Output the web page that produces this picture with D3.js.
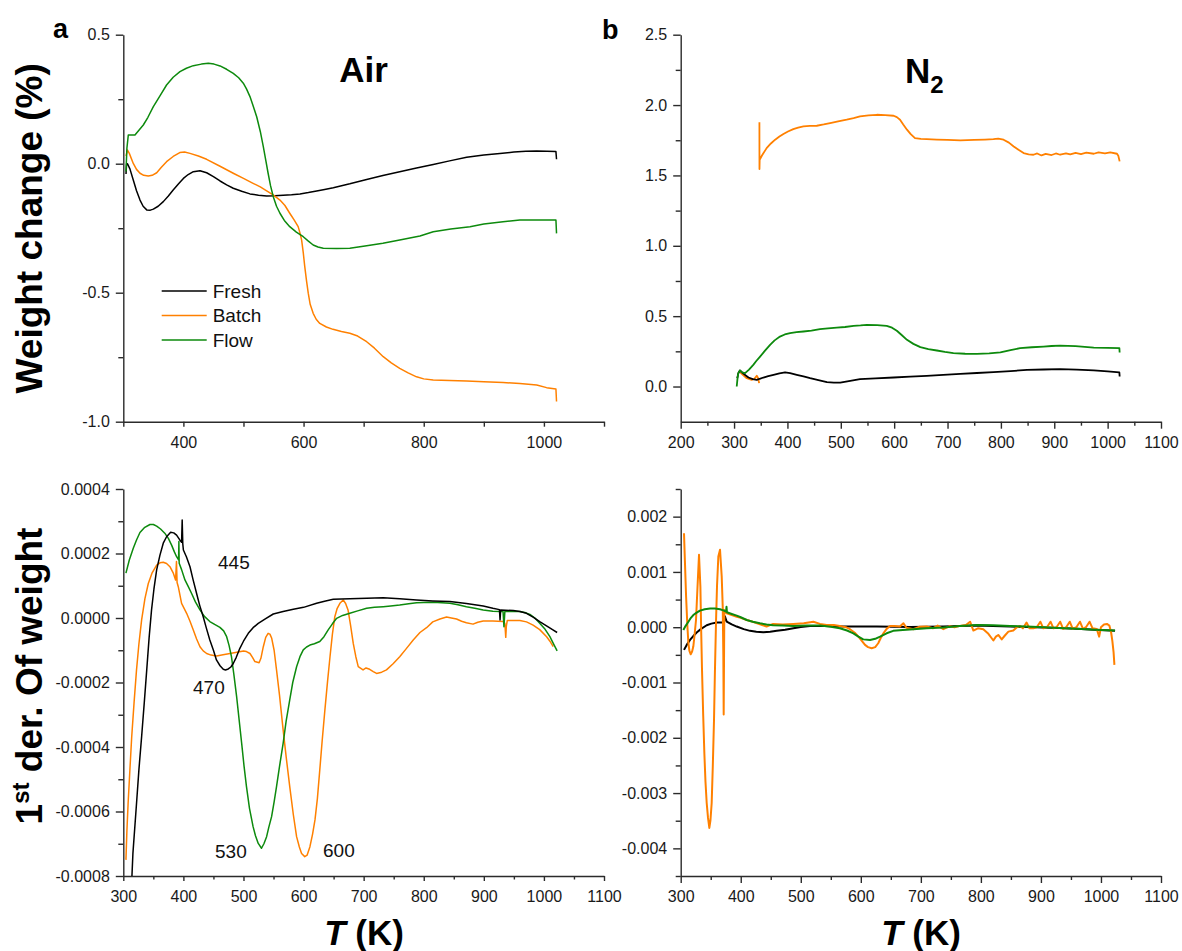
<!DOCTYPE html>
<html>
<head>
<meta charset="utf-8">
<script src="https://cdn.jsdelivr.net/npm/d3@7"></script>
<style>
body { margin:0; background:#fff; }
svg { display:block; font-family:"Liberation Sans", Arial, sans-serif; }
.axis path, .axis line { stroke:#2b2b2b; stroke-width:1.4; }
.axis text { font-size:16px; fill:#1a1a1a; font-family:"Liberation Sans", Arial, sans-serif; }
</style>
</head>
<body>
<svg id="fig" width="1182" height="951"></svg>
<script>
//Data : [T (K), value]
const seriesNames = ['Fresh','Batch','Flow'];
const seriesColors = ['#000000','#ff8000','#0d8a0d'];

// a : weight change (%) in air
const airFresh = [[304.5,-0.04],[305.5,0.0],[307,0.0],[311,-0.02],[316.6,-0.063],[322,-0.105],[327.8,-0.141],[333,-0.165],[339,-0.179],[345,-0.18],[350,-0.176],[358,-0.165],[366.6,-0.147],[375,-0.125],[383,-0.102],[392,-0.078],[400,-0.057],[408,-0.042],[416.5,-0.031],[427.6,-0.027],[438.7,-0.035],[450,-0.05],[461,-0.067],[472,-0.082],[483,-0.095],[497,-0.107],[510.8,-0.117],[525,-0.122],[538.6,-0.125],[552,-0.124],[566,-0.122],[580,-0.12],[594,-0.117],[608,-0.112],[621.8,-0.106],[635,-0.1],[649.5,-0.093],[677,-0.078],[705,-0.061],[732,-0.046],[760,-0.031],[788,-0.017],[815.8,-0.003],[843,0.011],[871.4,0.025],[900,0.034],[926.8,0.04],[950,0.045],[970,0.048],[988,0.049],[1005,0.048],[1020,0.047],[1021,0.017]];
const airBatch = [[304.5,0.03],[307,0.053],[310,0.04],[316.6,0.001],[322,-0.022],[327.8,-0.037],[334,-0.045],[341.6,-0.048],[348,-0.045],[355.6,-0.035],[363,-0.015],[372,0.008],[383,0.028],[394,0.043],[402,0.045],[411,0.04],[425,0.03],[438.7,0.017],[461,-0.01],[483,-0.037],[500,-0.057],[516,-0.076],[528,-0.09],[538.6,-0.105],[550,-0.122],[560.7,-0.141],[569,-0.162],[577,-0.192],[584,-0.217],[591,-0.244],[594,-0.268],[596.8,-0.296],[599.5,-0.345],[602,-0.399],[605,-0.455],[607.8,-0.502],[611,-0.545],[616,-0.58],[621,-0.603],[627,-0.619],[638,-0.633],[649,-0.642],[663,-0.65],[677,-0.657],[690,-0.668],[705,-0.69],[718,-0.715],[732.6,-0.748],[746,-0.772],[760,-0.793],[774,-0.811],[788,-0.826],[800,-0.834],[815.8,-0.838],[843,-0.84],[871.4,-0.842],[900,-0.845],[932,-0.848],[960,-0.852],[988,-0.858],[1004.5,-0.868],[1020,-0.873],[1021,-0.922]];
const airFlow = [[304.5,-0.03],[306,0.06],[308.3,0.111],[319.4,0.111],[326,0.13],[333.3,0.15],[341,0.18],[350,0.221],[361,0.263],[372,0.305],[383,0.335],[394.3,0.357],[405,0.37],[416.5,0.38],[430,0.386],[441.5,0.389],[451,0.386],[461,0.379],[472,0.366],[483,0.35],[492,0.333],[499.7,0.312],[505,0.29],[510.8,0.26],[516,0.225],[522,0.182],[528,0.125],[533,0.066],[537,0.015],[541,-0.037],[545,-0.085],[549.6,-0.128],[555,-0.165],[560.7,-0.192],[568,-0.22],[577,-0.244],[588,-0.265],[599.5,-0.283],[608,-0.3],[616,-0.315],[624,-0.323],[632.8,-0.328],[655,-0.329],[677,-0.328],[705,-0.318],[732,-0.308],[760,-0.296],[793.7,-0.28],[815.8,-0.264],[845,-0.253],[877,-0.244],[900,-0.234],[932,-0.225],[960,-0.218],[990,-0.218],[1020,-0.218],[1021,-0.27]];

// b : weight change (%) in N2
const n2Fresh = [[306,0.06],[308,0.095],[311,0.114],[318,0.09],[327,0.064],[335,0.052],[342.5,0.047],[348,0.055],[355,0.064],[364,0.074],[374,0.083],[385,0.093],[395.6,0.1],[405,0.095],[417.5,0.083],[430,0.072],[442.5,0.059],[458,0.045],[474,0.031],[487,0.027],[499,0.028],[515,0.038],[536,0.052],[565,0.058],[599,0.064],[630,0.07],[661,0.076],[692,0.083],[724,0.09],[755,0.096],[786,0.102],[818,0.11],[849,0.118],[880,0.121],[911,0.123],[942,0.12],[974,0.114],[1000,0.107],[1022,0.1],[1022.5,0.071]];
const n2BatchStart = [[310,0.107],[316,0.085],[323.75,0.059],[333,0.047],[338,0.055],[342.5,0.076],[345,0.06],[347,0.024]];
const n2Batch = [[347.5,1.877],[347.6,1.545],[348,1.611],[352,1.64],[361,1.694],[369,1.727],[377,1.754],[385,1.776],[392.5,1.794],[401,1.812],[411,1.829],[420,1.84],[430,1.848],[442,1.852],[455,1.853],[468,1.862],[480,1.872],[495,1.884],[511,1.896],[524,1.907],[536,1.919],[552,1.926],[567.5,1.931],[583,1.929],[599,1.924],[605,1.914],[611,1.896],[617,1.862],[624,1.825],[631,1.793],[639,1.765],[650,1.76],[661,1.758],[680,1.755],[700,1.752],[724,1.749],[750,1.752],[770,1.755],[786,1.758],[795,1.762],[805,1.754],[815,1.733],[824,1.706],[833,1.682],[842.5,1.659],[852,1.65],[861,1.647],[868,1.656],[876,1.642],[884,1.653],[895,1.645],[903,1.656],[911,1.647],[922,1.657],[930,1.649],[940,1.66],[950,1.652],[960,1.662],[974,1.654],[983,1.664],[995,1.656],[1005,1.664],[1017.5,1.654],[1020,1.64],[1022.5,1.6]];
const n2Flow = [[305,0.0],[306.5,0.06],[308,0.095],[311,0.114],[315,0.1],[320.6,0.095],[328,0.12],[336,0.154],[342,0.183],[348.75,0.213],[358,0.255],[367.5,0.296],[376,0.328],[386,0.355],[395,0.37],[405,0.379],[417,0.386],[430,0.391],[445,0.397],[461,0.408],[476,0.413],[492.5,0.419],[508,0.423],[524,0.431],[537,0.434],[549,0.438],[568,0.436],[586,0.431],[596,0.418],[605,0.396],[614,0.366],[624,0.332],[636,0.303],[649,0.28],[664,0.266],[680,0.256],[695,0.246],[711,0.237],[733,0.233],[755,0.232],[778,0.236],[799,0.242],[818,0.258],[836,0.273],[858,0.279],[880,0.284],[895,0.288],[911,0.291],[940,0.287],[974,0.277],[1000,0.275],[1022,0.273],[1022.5,0.242]];

// c : 1st derivative in air
const derAirFresh = [[313,-8.6e-4],[316,-7.3e-4],[322,-5.75e-4],[326,-4.7e-4],[330.5,-3.68e-4],[335,-2.6e-4],[339,-1.61e-4],[343,-0.6e-4],[347,0.25e-4],[351,0.9e-4],[355.5,1.49e-4],[361,1.95e-4],[366.5,2.32e-4],[372,2.52e-4],[378.8,2.66e-4],[384,2.64e-4],[388.7,2.57e-4],[394,2.42e-4],[397,2.35e-4],[398,3.04e-4],[399,2.3e-4],[400,2.11e-4],[405,1.9e-4],[411,1.59e-4],[416,1.2e-4],[422,0.76e-4],[427,0.4e-4],[433,0.04e-4],[438,-0.3e-4],[444,-0.68e-4],[450,-1.0e-4],[455,-1.3e-4],[461,-1.48e-4],[466.4,-1.59e-4],[470,-1.61e-4],[474.7,-1.58e-4],[479,-1.52e-4],[483,-1.41e-4],[488,-1.22e-4],[494,-0.94e-4],[500,-0.72e-4],[508,-0.475e-4],[516,-0.3e-4],[524.6,-0.165e-4],[537,-0.02e-4],[549.6,0.124e-4],[566,0.2e-4],[583,0.27e-4],[600,0.33e-4],[621.7,0.455e-4],[635,0.52e-4],[649.4,0.58e-4],[677,0.6e-4],[705,0.61e-4],[732.6,0.63e-4],[760,0.6e-4],[788,0.56e-4],[815,0.53e-4],[843.5,0.51e-4],[871,0.45e-4],[899,0.37e-4],[915,0.3e-4],[926,0.26e-4],[927,-0.06e-4],[928,0.25e-4],[949,0.23e-4],[960,0.2e-4],[971,0.145e-4],[982,0.03e-4],[993,-0.11e-4],[1005,-0.25e-4],[1015,-0.37e-4],[1022,-0.45e-4]];
const derAirBatch = [[304.4,-7.5e-4],[306,-6.6e-4],[308,-5.75e-4],[311,-4.7e-4],[314,-3.68e-4],[318,-2.6e-4],[322,-1.61e-4],[326,-0.8e-4],[330.5,-0.06e-4],[336,0.6e-4],[341.6,1.07e-4],[348,1.4e-4],[355.5,1.64e-4],[361,1.71e-4],[366.5,1.73e-4],[372,1.69e-4],[377.6,1.59e-4],[383,1.4e-4],[387,1.18e-4],[388.5,1.75e-4],[389.5,1.1e-4],[391.5,0.97e-4],[397,0.455e-4],[405.4,0.145e-4],[411,-0.1e-4],[416.5,-0.37e-4],[422,-0.65e-4],[427.6,-0.89e-4],[433,-1.02e-4],[438.7,-1.1e-4],[446,-1.15e-4],[455.3,-1.18e-4],[466,-1.14e-4],[477.5,-1.1e-4],[489,-1.06e-4],[500,-1.02e-4],[505,-1.04e-4],[510.8,-1.1e-4],[515,-1.22e-4],[519,-1.35e-4],[526,-1.39e-4],[529,-1.25e-4],[533,-0.89e-4],[537,-0.6e-4],[541,-0.475e-4],[544,-0.5e-4],[547,-0.63e-4],[551,-1.0e-4],[555,-1.61e-4],[560,-2.4e-4],[566,-3.47e-4],[571,-4.3e-4],[577,-5.23e-4],[583,-6.1e-4],[588.4,-6.78e-4],[593,-7.1e-4],[596.7,-7.3e-4],[602,-7.4e-4],[606,-7.35e-4],[610.6,-7.09e-4],[615,-6.7e-4],[619,-6.26e-4],[623,-5.6e-4],[627,-4.71e-4],[631,-3.8e-4],[635.5,-2.85e-4],[640,-1.95e-4],[644,-1.2e-4],[648,-0.5e-4],[652,0.04e-4],[656,0.3e-4],[660.5,0.455e-4],[666,0.56e-4],[670,0.45e-4],[674,0.25e-4],[678,-0.2e-4],[682.7,-0.79e-4],[687,-1.2e-4],[691,-1.51e-4],[699,-1.61e-4],[704,-1.55e-4],[710,-1.59e-4],[716,-1.66e-4],[721.5,-1.72e-4],[730,-1.68e-4],[738,-1.61e-4],[749,-1.42e-4],[760,-1.2e-4],[771,-0.95e-4],[782.5,-0.68e-4],[793.7,-0.45e-4],[804.7,-0.3e-4],[815,-0.12e-4],[827,-0.03e-4],[838,0.03e-4],[846,0.0],[854.6,-0.03e-4],[863,-0.1e-4],[871,-0.145e-4],[882,-0.19e-4],[890,-0.13e-4],[899,-0.09e-4],[915,-0.09e-4],[932,-0.11e-4],[935,-0.165e-4],[936.5,-0.6e-4],[937.5,-0.25e-4],[939,-0.08e-4],[960,-0.08e-4],[971,-0.12e-4],[982,-0.22e-4],[993,-0.36e-4],[1004.5,-0.58e-4],[1010,-0.72e-4],[1015.5,-0.89e-4]];
const derAirFlow = [[304.4,1.39e-4],[310,1.8e-4],[316.6,2.16e-4],[322,2.42e-4],[327.7,2.65e-4],[335,2.8e-4],[344.4,2.9e-4],[350,2.9e-4],[355.5,2.85e-4],[362,2.76e-4],[369,2.63e-4],[375,2.47e-4],[380.4,2.26e-4],[385,2.05e-4],[388.7,1.9e-4],[392,1.8e-4],[392.5,2.37e-4],[393,1.7e-4],[397,1.5e-4],[402.6,1.18e-4],[408,0.98e-4],[413.7,0.76e-4],[420,0.5e-4],[427.6,0.25e-4],[435,0.05e-4],[444,-0.11e-4],[452,-0.2e-4],[460.8,-0.29e-4],[467,-0.4e-4],[472,-0.58e-4],[476,-0.85e-4],[480,-1.2e-4],[484,-1.75e-4],[488.6,-2.44e-4],[493,-3.2e-4],[497,-3.89e-4],[501,-4.6e-4],[505,-5.23e-4],[510,-5.9e-4],[516,-6.47e-4],[520,-6.75e-4],[524.6,-6.99e-4],[530,-7.14e-4],[534,-7.0e-4],[538.5,-6.78e-4],[542,-6.5e-4],[546.8,-6.16e-4],[551,-5.7e-4],[555,-5.23e-4],[560,-4.6e-4],[566,-3.89e-4],[571,-3.2e-4],[577,-2.54e-4],[582,-2.0e-4],[588.4,-1.51e-4],[594,-1.2e-4],[599.5,-0.99e-4],[605,-0.9e-4],[610.6,-0.84e-4],[618,-0.8e-4],[627,-0.73e-4],[634,-0.58e-4],[641,-0.37e-4],[648,-0.18e-4],[655,-0.01e-4],[665,0.08e-4],[677,0.145e-4],[690,0.22e-4],[705,0.3e-4],[718,0.33e-4],[732.6,0.35e-4],[745,0.37e-4],[760,0.4e-4],[775,0.44e-4],[788,0.475e-4],[800,0.48e-4],[816,0.49e-4],[830,0.47e-4],[843.5,0.455e-4],[857,0.41e-4],[871,0.35e-4],[885,0.3e-4],[899,0.25e-4],[915,0.21e-4],[927,0.2e-4],[932,0.2e-4],[933.5,-0.27e-4],[935,0.2e-4],[960,0.2e-4],[970,0.16e-4],[976.7,0.11e-4],[985,0.0],[993,-0.165e-4],[1002,-0.35e-4],[1010,-0.58e-4],[1016,-0.8e-4],[1022,-1.02e-4]];

// d : 1st derivative in N2
const derN2Fresh = [[305.5,-0.41e-3],[310,-0.32e-3],[315.5,-0.23e-3],[321,-0.16e-3],[326.6,-0.096e-3],[334,-0.03e-3],[343.3,0.036e-3],[351,0.065e-3],[360,0.084e-3],[372,0.084e-3],[373.5,0.2e-3],[375,0.15e-3],[376.6,0.1e-3],[385,0.05e-3],[393.3,0.012e-3],[405,-0.035e-3],[415.5,-0.066e-3],[426,-0.082e-3],[437.7,-0.09e-3],[449,-0.082e-3],[460,-0.066e-3],[474,-0.045e-3],[487.7,-0.018e-3],[500,0.005e-3],[515.4,0.024e-3],[540,0.02e-3],[571,0.012e-3],[600,0.012e-3],[626.5,0.012e-3],[655,0.01e-3],[682,0.006e-3],[710,0.01e-3],[737.5,0.012e-3],[765,0.02e-3],[793,0.03e-3],[820,0.02e-3],[848.6,0.012e-3],[876,0.003e-3],[904,-0.006e-3],[930,-0.015e-3],[959.6,-0.03e-3],[990,-0.045e-3],[1023.5,-0.066e-3]];
const derN2Batch = [[305.5,1.7e-3],[307,1.2e-3],[309,0.55e-3],[311,0.05e-3],[312.8,-0.29e-3],[314.5,-0.43e-3],[316.7,-0.49e-3],[319,-0.44e-3],[321,-0.35e-3],[323,-0.15e-3],[325.5,0.13e-3],[328,0.73e-3],[330.5,1.31e-3],[332.8,0.73e-3],[334,0.0],[335.5,-0.77e-3],[337.5,-1.6e-3],[339.4,-2.28e-3],[341.3,-2.8e-3],[343.3,-3.18e-3],[345.5,-3.45e-3],[347.7,-3.63e-3],[349.5,-3.5e-3],[351.6,-3.18e-3],[353.5,-2.5e-3],[355.5,-1.67e-3],[357,-0.8e-3],[358.9,0.13e-3],[360.5,0.75e-3],[362.7,1.28e-3],[365.5,1.4e-3],[368.3,0.92e-3],[370,0.37e-3],[371,-0.5e-3],[371.6,-1.58e-3],[372.2,-0.5e-3],[372.7,0.31e-3],[376.6,0.25e-3],[385,0.22e-3],[393.3,0.19e-3],[400,0.17e-3],[410,0.13e-3],[420,0.1e-3],[432,0.054e-3],[443,0.012e-3],[454,0.06e-3],[470,0.05e-3],[487.7,0.06e-3],[505,0.07e-3],[521,0.1e-3],[532,0.06e-3],[543,0.04e-3],[555,0.04e-3],[565,0.024e-3],[575,0.0],[582,-0.036e-3],[590,-0.1e-3],[596,-0.17e-3],[602,-0.25e-3],[607,-0.32e-3],[612,-0.36e-3],[618,-0.38e-3],[624,-0.36e-3],[629,-0.29e-3],[633,-0.2e-3],[637.6,-0.11e-3],[643,-0.03e-3],[648.7,0.024e-3],[656,0.02e-3],[665,0.012e-3],[671,0.072e-3],[676,-0.01e-3],[687.6,-0.036e-3],[698,0.01e-3],[709.8,0.012e-3],[720,-0.02e-3],[728,0.03e-3],[737.5,-0.036e-3],[748,0.02e-3],[756,0.0],[765,0.024e-3],[775,0.04e-3],[782,0.1e-3],[787.5,-0.06e-3],[795,-0.02e-3],[804,-0.036e-3],[812.5,-0.12e-3],[820.8,-0.24e-3],[825,-0.17e-3],[829,-0.14e-3],[834.7,-0.22e-3],[840,-0.15e-3],[845.8,-0.08e-3],[854,-0.06e-3],[860,0.0],[865,0.024e-3],[870,-0.02e-3],[876,0.084e-3],[881,-0.02e-3],[887.5,-0.018e-3],[893,0.0],[899,0.1e-3],[904,-0.02e-3],[910,0.0],[916,0.1e-3],[921,-0.02e-3],[926,0.0],[932,0.1e-3],[937,-0.03e-3],[942,0.0],[948,0.1e-3],[953,-0.03e-3],[959,0.0],[965,0.1e-3],[970,-0.03e-3],[975,0.0],[981,0.1e-3],[986,-0.02e-3],[993,-0.03e-3],[997,-0.17e-3],[1000,0.0],[1005,0.05e-3],[1010,0.06e-3],[1014,0.03e-3],[1017,-0.1e-3],[1019,-0.25e-3],[1021,-0.45e-3],[1022.4,-0.68e-3]];
const derN2Flow = [[304.4,-0.05e-3],[308,0.02e-3],[312.8,0.1e-3],[317,0.17e-3],[321,0.22e-3],[326,0.26e-3],[332,0.3e-3],[340,0.325e-3],[349,0.34e-3],[357,0.34e-3],[365.5,0.325e-3],[372,0.3e-3],[375.5,0.28e-3],[376.3,0.37e-3],[377,0.27e-3],[385,0.24e-3],[393.3,0.21e-3],[400,0.18e-3],[410,0.13e-3],[420,0.1e-3],[432,0.07e-3],[443,0.05e-3],[454,0.036e-3],[470,0.03e-3],[487.7,0.024e-3],[510,0.03e-3],[532,0.03e-3],[550,0.01e-3],[565,-0.018e-3],[577,-0.06e-3],[587.6,-0.11e-3],[596,-0.17e-3],[604,-0.22e-3],[615.4,-0.23e-3],[624,-0.21e-3],[632,-0.17e-3],[643,-0.11e-3],[654,-0.066e-3],[670,-0.05e-3],[687.6,-0.036e-3],[710,-0.02e-3],[737.5,-0.006e-3],[765,0.02e-3],[793,0.042e-3],[820,0.035e-3],[848.6,0.024e-3],[876,0.012e-3],[904,0.0],[930,-0.015e-3],[959.6,-0.03e-3],[990,-0.045e-3],[1023.5,-0.06e-3]];

// ticks
const airXMajor = [400,600,800,1000];
const airXMinor = [300,500,700,900,1100];
const n2XMajor = [200,300,400,500,600,700,800,900,1000,1100];
const n2XMinor = [250,350,450,550,650,750,850,950,1050];
const derXMajor = [300,400,500,600,700,800,900,1000,1100];
const derXMinor = [350,450,550,650,750,850,950,1050];
const airYMajor = [-1.0,-0.5,0.0,0.5];
const airYMinor = [-0.75,-0.25,0.25];
const n2YMajor = [0.0,0.5,1.0,1.5,2.0,2.5];
const n2YMinor = [0.25,0.75,1.25,1.75,2.25];
const derAirYMajor = [-0.0008,-0.0006,-0.0004,-0.0002,0.0,0.0002,0.0004];
const derAirYMinor = [-0.0007,-0.0005,-0.0003,-0.0001,0.0001,0.0003];
const derN2YMajor = [-0.004,-0.003,-0.002,-0.001,0.0,0.001,0.002];
const derN2YMinor = [-0.0045,-0.0035,-0.0025,-0.0015,-0.0005,0.0005,0.0015,0.0025];

// peak labels in c
const peakLabels = [{t:'445',x:218,y:569},{t:'470',x:193,y:694},{t:'530',x:215,y:858},{t:'600',x:323,y:857}];

const svg = d3.select('#fig');
const loc = d3.formatLocale({decimal:'.', thousands:',', grouping:[3], currency:['',''], minus:'-'});

function drawPanel(p){
    const x = d3.scaleLinear().domain(p.xDomain).range([p.left,p.right]);
    const y = d3.scaleLinear().domain(p.yDomain).range([p.bottom,p.top]);
    const g = svg.append('g');

    //x axis
    g.append('g').attr('class','axis').attr('transform',`translate(0,${p.bottom})`)
        .call(d3.axisBottom(x).tickValues(p.xMinor).tickSize(p.xMinorSize).tickFormat(''))
        .call(a=>a.select('.domain').remove());
    g.append('g').attr('class','axis').attr('transform',`translate(0,${p.bottom})`)
        .call(d3.axisBottom(x).tickValues(p.xMajor).tickSizeInner(p.xMajorSize).tickSizeOuter(0)
            .tickPadding(15-p.xMajorSize-(p.xShift||0)).tickFormat(d3.format('d')));

    //y axis
    g.append('g').attr('class','axis').attr('transform',`translate(${p.left},0)`)
        .call(d3.axisLeft(y).tickValues(p.yMinor).tickSize(5).tickFormat(''))
        .call(a=>a.select('.domain').remove());
    g.append('g').attr('class','axis').attr('transform',`translate(${p.left},0)`)
        .call(d3.axisLeft(y).tickValues(p.yMajor).tickSizeInner(7.5).tickSizeOuter(0)
            .tickPadding(6).tickFormat(loc.format(p.yFmt)));

    //lines
    g.append('clipPath').attr('id',p.id).append('rect')
        .attr('x',p.left).attr('y',p.top).attr('width',p.right-p.left).attr('height',p.bottom-p.top);
    const line = d3.line().x(d=>x(d[0])).y(d=>y(d[1]));
    g.append('g').attr('clip-path',`url(#${p.id})`)
        .selectAll('path').data(p.series).join('path')
        .attr('d',s=>line(s.values))
        .attr('fill','none')
        .attr('stroke',s=>s.color)
        .attr('stroke-width',p.lineWidth)
        .attr('stroke-linejoin','round');
    return {x,y,g};
}

const pa = drawPanel({id:'clipA',left:123.3,right:604,top:34.7,bottom:421.7,xDomain:[300,1100],yDomain:[-1,0.5],
    xMajor:airXMajor,xMinor:airXMinor,xMajorSize:5,xMinorSize:5,yMajor:airYMajor,yMinor:airYMinor,yFmt:'.1f',lineWidth:1.5,
    series:[{values:airFresh,color:seriesColors[0]},{values:airBatch,color:seriesColors[1]},{values:airFlow,color:seriesColors[2]}]});

drawPanel({id:'clipB',left:680.7,right:1161,top:34.7,bottom:421.7,xDomain:[200,1100],yDomain:[-0.25,2.5],
    xMajor:n2XMajor,xMinor:n2XMinor,xMajorSize:7,xMinorSize:4,yMajor:n2YMajor,yMinor:n2YMinor,yFmt:'.1f',lineWidth:1.8,
    series:[{values:n2BatchStart,color:seriesColors[1]},{values:n2Fresh,color:seriesColors[0]},{values:n2Batch,color:seriesColors[1]},{values:n2Flow,color:seriesColors[2]}]});

drawPanel({id:'clipC',left:123.3,right:604,top:489,bottom:876,xDomain:[300,1100],yDomain:[-0.0008,0.0004],
    xMajor:derXMajor,xMinor:derXMinor,xMajorSize:5,xMinorSize:3.5,xShift:0.7,yMajor:derAirYMajor,yMinor:derAirYMinor,yFmt:'.4f',lineWidth:1.5,
    series:[{values:derAirBatch,color:seriesColors[1]},{values:derAirFlow,color:seriesColors[2]},{values:derAirFresh,color:seriesColors[0]}]});

drawPanel({id:'clipD',left:680.7,right:1161,top:489,bottom:876,xDomain:[300,1100],yDomain:[-0.0045,0.0025],
    xMajor:derXMajor,xMinor:derXMinor,xMajorSize:7,xMinorSize:4,xShift:0.7,yMajor:derN2YMajor,yMinor:derN2YMinor,yFmt:'.3f',lineWidth:2,
    series:[{values:derN2Fresh,color:seriesColors[0]},{values:derN2Batch,color:seriesColors[1]},{values:derN2Flow,color:seriesColors[2]}]});

//legend (a)
const legend = svg.append('g');
seriesNames.forEach((name,i)=>{
    const ly = 291 + i*24.5;
    legend.append('line').attr('x1',161.7).attr('x2',206.7).attr('y1',ly).attr('y2',ly)
        .attr('stroke',seriesColors[i]).attr('stroke-width',1.6);
    legend.append('text').attr('x',212.7).attr('y',ly+6.8).text(name)
        .style('font-size','19px').style('fill','#111');
});

//panel letters & titles
svg.append('text').attr('x',53).attr('y',38).text('a').style('font-size','27px').style('font-weight','bold');
svg.append('text').attr('x',602).attr('y',39).text('b').style('font-size','27px').style('font-weight','bold');
svg.append('text').attr('x',363.6).attr('y',81.7).attr('text-anchor','middle').text('Air')
    .style('font-size','35px').style('font-weight','bold');
const n2 = svg.append('text').attr('x',905).attr('y',83.3).style('font-size','35px').style('font-weight','bold');
n2.append('tspan').text('N');
n2.append('tspan').attr('dy',9.4).style('font-size','24px').text('2');

//axis titles
svg.append('text').attr('transform','translate(41.7,228.3) rotate(-90)').attr('text-anchor','middle')
    .text('Weight change (%)').style('font-size','37px').style('font-weight','bold');
const dTitle = svg.append('text').attr('transform','translate(41.7,676) rotate(-90)').attr('text-anchor','middle')
    .style('font-size','37px').style('font-weight','bold');
dTitle.append('tspan').text('1');
dTitle.append('tspan').attr('dy',-13).style('font-size','24px').text('st');
dTitle.append('tspan').attr('dy',13).text(' der. Of weight');

[364,921].forEach(cx=>{
    const t = svg.append('text').attr('x',cx).attr('y',945).attr('text-anchor','middle')
        .style('font-size','35px').style('font-weight','bold');
    t.append('tspan').style('font-style','italic').text('T');
    t.append('tspan').text(' (K)');
});

//peak labels
svg.selectAll('.peak').data(peakLabels).join('text').attr('class','peak')
    .attr('x',d=>d.x).attr('y',d=>d.y).text(d=>d.t)
    .style('font-size','19px').style('fill','#111');
</script>
</body>
</html>
